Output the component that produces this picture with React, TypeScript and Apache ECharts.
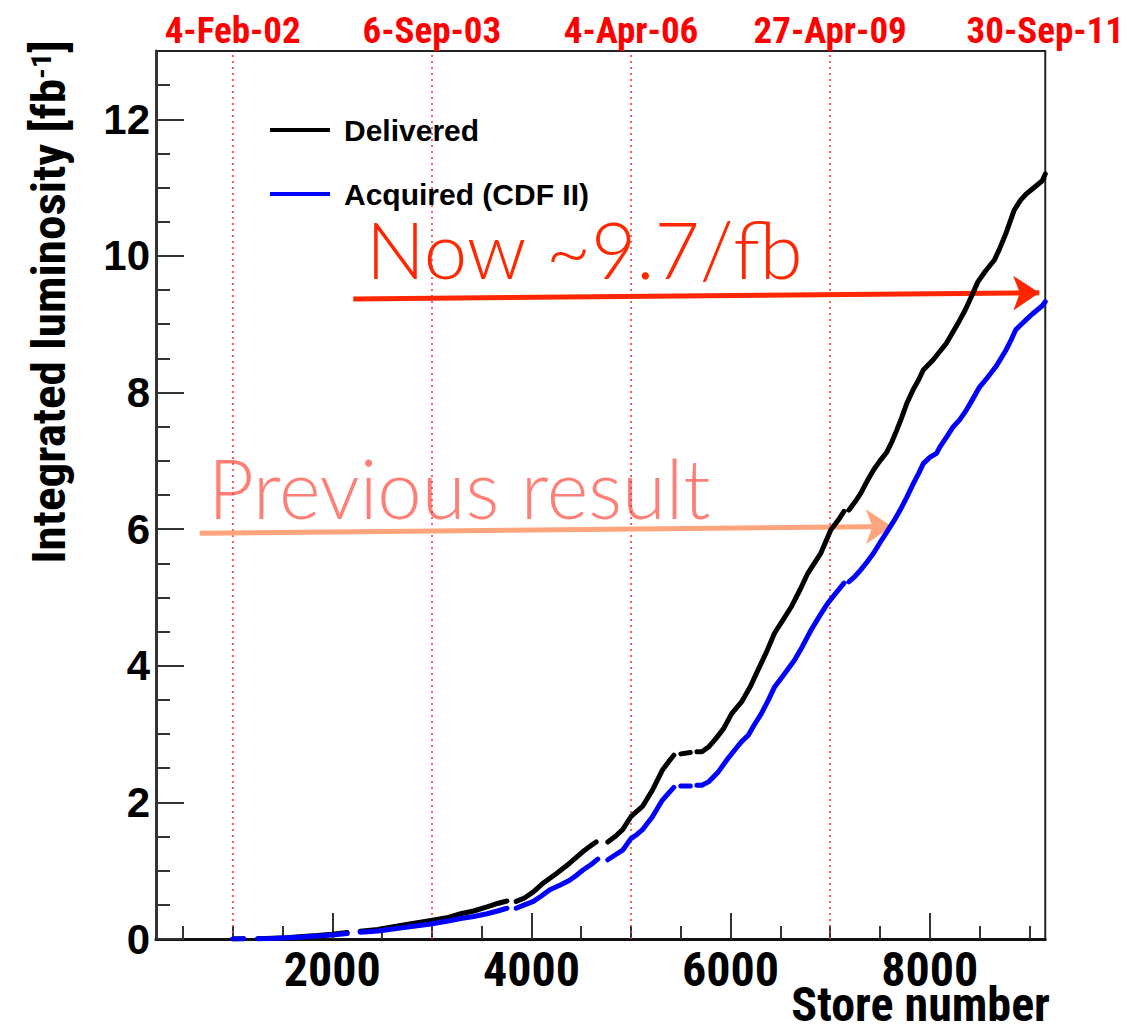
import React, { useEffect, useRef } from "react";
import * as echarts from "echarts";

// Axis ranges
const STORE_MIN = 230;
const STORE_MAX = 9160;
const LUM_MIN = 0;
const LUM_MAX = 13;

// Tick positions and labels
const storeLabels = [2000, 4000, 6000, 8000];
const storeMinorTicks = [500, 1000, 1500, 2500, 3000, 3500, 4500, 5000, 5500, 6500, 7000, 7500, 8500, 9000];
const lumLabels = [0, 2, 4, 6, 8, 10, 12];
const lumMinorTicks = [0.5, 1, 1.5, 2.5, 3, 3.5, 4.5, 5, 5.5, 6.5, 7, 7.5, 8.5, 9, 9.5, 10.5, 11, 11.5, 12.5];

// Calendar dates matching store numbers (top axis)
const dateStores = [1000, 3000, 5000, 7000, 9160];
const dateLabels = ["4-Feb-02", "6-Sep-03", "4-Apr-06", "27-Apr-09", "30-Sep-11"];

// Integrated luminosity vs store number; null marks a break in the record
const deliveredStore = [
  1000, 1110, 1180, 1250, 1400, 1550, 1700, 1850, 2000, 2150, 2210, 2280, 2460, 2700, 2900, 2990,
  3150, 3290, 3420, 3555, 3660, 3754, 3800, 3847, 3930, 4020, 4120, 4252, 4384, 4518, 4600, 4650,
  4710, 4767, 4840, 4916, 4999, 5115, 5215, 5314, 5380, 5430, 5465, 5500, 5596, 5630, 5662, 5712,
  5778, 5850, 5930, 6011, 6110, 6200, 6276, 6360, 6442, 6530, 6608, 6700, 6774, 6840, 6907, 7007,
  7080, 7139, 7165, 7189, 7250, 7305, 7370, 7437, 7500, 7570, 7620, 7669, 7720, 7769, 7836, 7886,
  7935, 8035, 8101, 8167, 8230, 8301, 8360, 8416, 8483, 8560, 8649, 8700, 8765, 8848, 8914, 8964,
  9030, 9097, 9130, 9160,
];
const deliveredLum = [
  0, 0.002, null, 0.004, 0.01, 0.02, 0.035, 0.05, 0.07, 0.095, null, 0.115, 0.14, 0.2, 0.25, 0.27,
  0.31, 0.37, 0.41, 0.47, 0.52, 0.556, null, 0.55, 0.6, 0.69, 0.82, 0.96, 1.11, 1.28, 1.37, 1.42,
  null, 1.42, 1.5, 1.6, 1.79, 1.94, 2.18, 2.47, 2.6, 2.69, null, 2.71, 2.73, null, 2.74, 2.74,
  2.81, 2.93, 3.08, 3.3, 3.47, 3.7, 3.94, 4.2, 4.48, 4.68, 4.86, 5.12, 5.35, 5.5, 5.65, 5.99,
  6.13, 6.26, null, 6.28, 6.4, 6.52, 6.7, 6.87, 7.0, 7.13, 7.28, 7.45, 7.64, 7.84, 8.05, 8.18,
  8.33, 8.48, 8.6, 8.72, 8.88, 9.06, 9.22, 9.4, 9.62, 9.78, 9.94, 10.1, 10.33, 10.67, 10.82, 10.9,
  10.98, 11.06, 11.1, 11.2,
];

const acquiredStore = [
  1000, 1110, 1180, 1250, 1400, 1550, 1700, 1850, 2000, 2150, 2210, 2280, 2460, 2700, 2990, 3150,
  3290, 3420, 3555, 3660, 3754, 3800, 3847, 3930, 4020, 4100, 4185, 4290, 4384, 4450, 4518, 4600,
  4666, 4710, 4767, 4840, 4916, 4999, 5060, 5115, 5215, 5314, 5380, 5430, 5465, 5500, 5596, 5630,
  5662, 5712, 5778, 5878, 5977, 6060, 6110, 6176, 6240, 6309, 6380, 6442, 6540, 6641, 6720, 6807,
  6890, 6973, 7060, 7139, 7165, 7189, 7250, 7305, 7370, 7437, 7500, 7570, 7640, 7703, 7770, 7836,
  7890, 7935, 8000, 8068, 8101, 8170, 8236, 8300, 8366, 8430, 8500, 8580, 8665, 8765, 8820, 8864,
  8920, 8964, 9030, 9097, 9130, 9160,
];
const acquiredLum = [
  0, 0.002, null, 0.003, 0.008, 0.017, 0.03, 0.045, 0.06, 0.08, null, 0.1, 0.117, 0.165, 0.22, 0.26,
  0.3, 0.33, 0.37, 0.41, 0.45, null, 0.45, 0.5, 0.55, 0.63, 0.72, 0.79, 0.86, 0.93, 1.01, 1.09,
  1.17, null, 1.16, 1.23, 1.3, 1.47, 1.53, 1.6, 1.79, 2.03, 2.14, 2.22, null, 2.24, 2.24, null,
  2.25, 2.25, 2.3, 2.45, 2.65, 2.8, 2.89, 2.98, 3.14, 3.3, 3.5, 3.69, 3.88, 4.08, 4.28, 4.52,
  4.72, 4.91, 5.07, 5.21, null, 5.23, 5.31, 5.4, 5.52, 5.65, 5.8, 5.96, 6.12, 6.28, 6.47, 6.67,
  6.82, 6.96, 7.05, 7.11, 7.2, 7.35, 7.5, 7.6, 7.74, 7.9, 8.08, 8.22, 8.38, 8.62, 8.78, 8.92,
  9.0, 9.06, 9.15, 9.23, 9.27, 9.33,
];

// Annotation arrows, in [store, luminosity] coordinates
const nowArrow = [[2211, 9.37], [9100, 9.46]];
const previousArrow = [[668, 5.94], [7620, 6.04]];

const NARROW = '"Liberation Sans Narrow", "Arial Narrow", "Roboto Condensed", "DejaVu Sans Condensed", sans-serif';
const SANS = '"Liberation Sans", Arial, Helvetica, sans-serif';
const LIGHT = 'Lato, "Helvetica Neue", Roboto, sans-serif';

const toPairs = (xs: number[], ys: (number | null)[]) =>
  xs.map((x, i) => (ys[i] === null ? [x, "-"] : [x, ys[i]]));

const arrowLine = (pts: number[][], color: string) => [
  {
    coord: pts[0],
    symbol: "none",
    lineStyle: { color, width: 5, type: "solid" },
    itemStyle: { color },
  },
  {
    coord: pts[1],
    symbol: "arrow",
    symbolSize: 26,
    itemStyle: { color },
  },
];

export default function App() {
  const ref = useRef<HTMLDivElement>(null);

  useEffect(() => {
    if (!ref.current) return;
    const chart = echarts.init(ref.current, null, { renderer: "svg" });

    const tickStyle = { color: "#333", width: 2 };

    chart.setOption({
      animation: false,
      backgroundColor: "#fff",
      grid: {
        left: 156,
        right: 74,
        top: 51,
        bottom: 86,
        show: true,
        borderColor: "#222",
        borderWidth: 2,
        backgroundColor: "transparent",
      },
      legend: {
        orient: "vertical",
        left: 265,
        top: 108,
        itemWidth: 60,
        itemHeight: 4,
        itemGap: 30,
        icon: "rect",
        selectedMode: false,
        textStyle: {
          fontFamily: SANS,
          fontWeight: "bold",
          fontSize: 30,
          lineHeight: 34,
          color: "#000",
          padding: [0, 0, 0, 9],
        },
        data: ["Delivered", "Acquired (CDF II)"],
      },
      xAxis: [
        {
          type: "value",
          min: STORE_MIN,
          max: STORE_MAX,
          position: "bottom",
          axisLine: { show: true, onZero: false, lineStyle: { color: "#111", width: 3 } },
          axisTick: { show: true, inside: true, length: 26, customValues: storeLabels, lineStyle: tickStyle },
          axisLabel: {
            customValues: storeLabels,
            formatter: (v: number) => String(v),
            fontFamily: NARROW,
            fontWeight: "bold",
            fontSize: 48,
            lineHeight: 34,
            color: "#000",
            margin: 13,
          },
          splitLine: { show: false },
        },
        {
          type: "value",
          min: STORE_MIN,
          max: STORE_MAX,
          position: "bottom",
          axisLine: { show: false, onZero: false },
          axisTick: { show: true, inside: true, length: 13, customValues: storeMinorTicks, lineStyle: tickStyle },
          axisLabel: { show: false },
          splitLine: { show: false },
        },
        {
          type: "value",
          min: STORE_MIN,
          max: STORE_MAX,
          position: "top",
          axisLine: { show: false, onZero: false },
          axisTick: { show: false },
          axisLabel: {
            customValues: dateStores,
            formatter: (v: number) => {
              const i = dateStores.indexOf(Math.round(v));
              return i >= 0 ? dateLabels[i] : "";
            },
            fontFamily: NARROW,
            fontWeight: "bold",
            fontSize: 37,
            color: "#ff0000",
            margin: 2,
          },
          splitLine: { show: false },
        },
      ],
      yAxis: [
        {
          type: "value",
          min: LUM_MIN,
          max: LUM_MAX,
          position: "left",
          axisLine: { show: true, onZero: false, lineStyle: { color: "#333", width: 3 } },
          axisTick: { show: true, inside: true, length: 28, customValues: lumLabels, lineStyle: tickStyle },
          axisLabel: {
            customValues: lumLabels,
            fontFamily: SANS,
            fontWeight: "bold",
            fontSize: 42,
            color: "#000",
            margin: 6,
          },
          splitLine: { show: false },
        },
        {
          type: "value",
          min: LUM_MIN,
          max: LUM_MAX,
          position: "left",
          axisLine: { show: false, onZero: false },
          axisTick: { show: true, inside: true, length: 14, customValues: lumMinorTicks, lineStyle: tickStyle },
          axisLabel: { show: false },
          splitLine: { show: false },
        },
      ],
      series: [
        {
          name: "Delivered",
          type: "line",
          data: toPairs(deliveredStore, deliveredLum),
          showSymbol: false,
          symbol: "none",
          connectNulls: false,
          color: "#000",
          lineStyle: { color: "#000", width: 5, cap: "round", join: "round" },
          z: 3,
          markLine: {
            silent: true,
            symbol: "none",
            label: { show: false },
            lineStyle: { color: "#ff2a2a", width: 1.5, type: [2, 4] },
            data: dateStores.slice(0, 4).map((v) => ({ xAxis: v })),
            z: 1,
          },
        },
        {
          name: "Acquired (CDF II)",
          type: "line",
          data: toPairs(acquiredStore, acquiredLum),
          showSymbol: false,
          symbol: "none",
          connectNulls: false,
          color: "#0000ff",
          lineStyle: { color: "#0000ff", width: 5, cap: "round", join: "round" },
          z: 3,
          markLine: {
            silent: true,
            label: { show: false },
            symbol: ["none", "arrow"],
            symbolSize: 26,
            z: 2,
            data: [arrowLine(nowArrow, "#ff2600"), arrowLine(previousArrow, "#ffa57e")],
          },
        },
      ],
      graphic: [
        {
          type: "text",
          x: 50,
          y: 40,
          rotation: Math.PI / 2,
          scaleX: 1.07,
          style: {
            text: "{t|Integrated luminosity [fb}{s|-1}{t|]}",
            align: "right",
            verticalAlign: "middle",
            rich: {
              t: { fontFamily: NARROW, fontWeight: "bold", fontSize: 46, fill: "#000", color: "#000" },
              s: {
                fontFamily: NARROW,
                fontWeight: "bold",
                fontSize: 28,
                fill: "#000",
                color: "#000",
                verticalAlign: "bottom",
                padding: [0, 0, 18, 0],
              },
            },
          },
        },
        {
          type: "text",
          x: 1050,
          y: 1022,
          style: {
            text: "Store number",
            align: "right",
            verticalAlign: "bottom",
            fontFamily: NARROW,
            fontWeight: "bold",
            fontSize: 48,
            lineHeight: 36,
            fill: "#000",
          },
        },
        {
          type: "text",
          x: 366,
          y: 249,
          style: {
            text: "Now ~9.7/fb",
            align: "left",
            verticalAlign: "middle",
            fontFamily: LIGHT,
            fontWeight: 300,
            fontSize: 78,
            lineHeight: 52,
            fill: "#ff2600",
          },
        },
        {
          type: "text",
          x: 208,
          y: 487,
          scaleX: 0.97,
          style: {
            text: "Previous result",
            align: "left",
            verticalAlign: "middle",
            fontFamily: LIGHT,
            fontWeight: 300,
            fontSize: 82,
            lineHeight: 62,
            fill: "#ff7f77",
          },
        },
      ],
    });

    return () => chart.dispose();
  }, []);

  return (
    <div
      ref={ref}
      style={{ position: "fixed", left: 0, top: 0, width: 1127, height: 1025, background: "#fff" }}
    />
  );
}
